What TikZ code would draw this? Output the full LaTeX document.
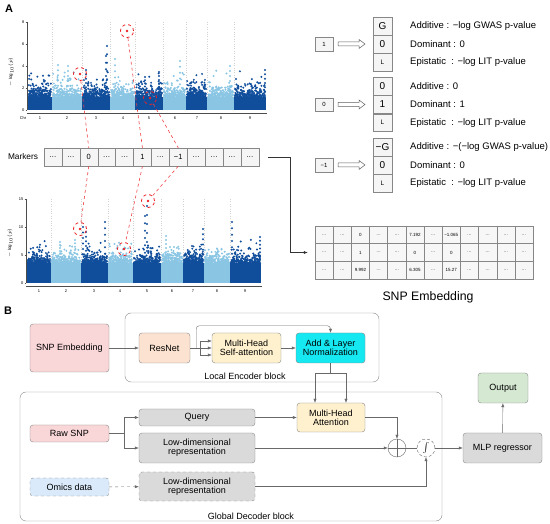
\documentclass[tikz,border=0pt]{standalone}
\usepackage{fontspec}
\setmainfont{Liberation Sans}
\usetikzlibrary{arrows.meta,calc}
\definecolor{dkblue}{RGB}{16,78,156}
\definecolor{ltblue}{RGB}{138,198,228}
\definecolor{snpred}{RGB}{236,32,36}
\definecolor{pinkfill}{RGB}{249,214,215}
\definecolor{peachfill}{RGB}{252,226,208}
\definecolor{yelfill}{RGB}{255,241,206}
\definecolor{cyanfill}{RGB}{22,232,242}
\definecolor{grayfill}{RGB}{218,218,218}
\definecolor{bluefill}{RGB}{218,234,250}
\definecolor{greenfill}{RGB}{212,232,210}
\definecolor{linegray}{RGB}{105,105,105}
\definecolor{boxgray}{RGB}{135,135,135}
\newcommand{\dd}{\ldots}
\newcommand{\fs}[1]{\fontsize{#1}{#1}\selectfont}
\begin{document}
\begin{tikzpicture}[x=1pt,y=-1pt]
\tikzset{
  cellbox/.style={draw=boxgray, fill=gray!8, minimum width=17.9pt, minimum height=18pt, inner sep=0pt, font=\fs{7.5}},
  stackcell/.style={draw=boxgray, fill=gray!8, minimum width=19pt, minimum height=17.7pt, inner sep=0pt, font=\fs{10}},
  smallbox/.style={draw=boxgray, fill=gray!8, minimum width=18pt, minimum height=13.5pt, inner sep=0pt, font=\fs{6}},
  tabcell/.style={draw=boxgray, fill=gray!6, minimum width=18.17pt, minimum height=17.67pt, inner sep=0pt, font=\fs{4.5}},
  hollow/.style={draw=gray!75!black, fill=white, line width=0.5pt},
  desc/.style={anchor=west, inner sep=0pt, font=\fs{9.5}},
  snpcirc/.style={circle, draw=snpred, dashed, thick, minimum size=13pt, inner sep=0pt},
  snplink/.style={draw=snpred!85, dashed, semithick},
  sep/.style={gray!35, dotted, line width=0.4pt},
  arrA/.style={draw=black!80, -{Latex[length=4pt,width=3pt]}},
  blk/.style={draw=boxgray, rounded corners=3pt, align=center, inner sep=1pt, font=\fs{9}},
  frame/.style={draw=boxgray, rounded corners=6pt, minimum width=#1, inner sep=0pt},
  arrB/.style={draw=linegray, -{Latex[length=4pt,width=3.2pt]}},
  lineB/.style={draw=linegray},
  axlab/.style={font=\fs{4}, inner sep=0.5pt}
}
\useasboundingbox (0,0) rectangle (550,524);

% ---------- A ----------
\node[font=\bfseries\fs{11}] (labA) at (9,9) {A};

% top manhattan plot
\foreach \xb in {52,82,110,135,163,186,207,234}
  \draw[sep] (\xb,22) -- (\xb,110);
\pgfmathsetseed{11}
\foreach \xa/\xb/\col in {28/52/dkblue,52/82/ltblue,82/110/dkblue,110/135/ltblue,135/163/dkblue,163/186/ltblue,186/207/dkblue,207/234/ltblue,234/266/dkblue}{
  \fill[\col] (\xa,110) rectangle (\xb,97);
  \foreach \n in {1,...,220}{
    \pgfmathsetmacro\px{\xa+0.9+rnd*(\xb-\xa-1.8)}
    \pgfmathsetmacro\py{98-11*(-ln(0.003+0.997*rnd)/2.302585)}
    \fill[\col] (\px,\py) circle (1.1);
  }
}
\foreach \sx/\sy/\col in {107/46/dkblue,106/56/dkblue,115/59/ltblue,180/61/ltblue,68/66/ltblue,58/65/ltblue,265/70/dkblue,159/72/dkblue,86/70/dkblue,145/77/dkblue,230/66/ltblue}
  \foreach \t in {0,1,...,6}
    \fill[\col] (\sx,{96+(\sy-96)*\t/6}) circle (1.1);
\draw[gray!60!black, line width=0.4pt] (27,22) -- (27,110);
\draw[gray!60!black, line width=0.4pt] (27,113) -- (267,113);
\foreach \v/\yy in {0/110,2/88,4/66,6/44,8/22}{
  \draw[gray!60!black, line width=0.4pt] (25.5,\yy) -- (27,\yy);
  \node[axlab, anchor=east] at (25,\yy) {\v};
}
\foreach \c/\xx in {1/40,2/67,3/96,4/123,5/149,6/175,7/197,8/221,9/250}
  \node[axlab] at (\xx,118) {\c};
\node[axlab] at (23,118) {Chr};
\node[rotate=90, font=\fs{4.5}] at (11,72) {$-\log_{10}(p)$};

% bottom manhattan plot
\foreach \xb in {51,81,108,133,161,183,204,230}
  \draw[sep] (\xb,199) -- (\xb,283);
\pgfmathsetseed{23}
\foreach \xa/\xb/\col in {27/51/dkblue,51/81/ltblue,81/108/dkblue,108/133/ltblue,133/161/dkblue,161/183/ltblue,183/204/dkblue,204/230/ltblue,230/261/dkblue}{
  \fill[\col] (\xa,283) rectangle (\xb,263);
  \foreach \n in {1,...,220}{
    \pgfmathsetmacro\px{\xa+0.9+rnd*(\xb-\xa-1.8)}
    \pgfmathsetmacro\py{264-10*(-ln(0.003+0.997*rnd)/2.302585)}
    \fill[\col] (\px,\py) circle (1.1);
  }
}
\foreach \sx/\sy/\col in {83/227/dkblue,86/232/dkblue,105/222/dkblue,147/206/dkblue,145/216/dkblue,203/229/dkblue,232/222/dkblue,260/237/dkblue,75/240/ltblue,166/236/ltblue,60/242/ltblue}
  \foreach \t in {0,1,...,6}
    \fill[\col] (\sx,{260+(\sy-260)*\t/6}) circle (1.1);
\draw[gray!60!black, line width=0.4pt] (26,199) -- (26,283);
\draw[gray!60!black, line width=0.4pt] (26,286) -- (262,286);
\foreach \v/\yy in {0/283,5/255,10/227,15/199}{
  \draw[gray!60!black, line width=0.4pt] (24.5,\yy) -- (26,\yy);
  \node[axlab, anchor=east] at (24,\yy) {\v};
}
\foreach \c/\xx in {1/39,2/66,3/94,4/120,5/147,6/172,7/193,8/217,9/245}
  \node[axlab] at (\xx,291) {\c};
\node[rotate=90, font=\fs{4.5}] at (10,243) {$-\log_{10}(p)$};

% highlighted SNPs
\foreach \nm/\cx/\cy in {c1/80/74,c2/127/31,c3/150/98,c4/80/229,c5/124/249,c6/148/201}{
  \fill[snpred] (\cx,\cy) circle (1.3);
  \node[snpcirc] (\nm) at (\cx,\cy) {};
}

% markers
\node[font=\fs{8.3}] (markers) at (23,157) {Markers};
\foreach \t [count=\i] in {\dd,\dd,0,\dd,\dd,1,\dd,−1,\dd,\dd,\dd,\dd}
  \node[cellbox] (mk\i) at ({44+17.9*(\i-0.5)},157) {\t};
\draw[snplink] (c1) -- (mk3.north);
\draw[snplink] (c2) -- (mk6.north);
\draw[snplink] (c3) -- (mk8.north);
\draw[snplink] (mk3.south) -- (c4);
\draw[snplink] (mk6.south) -- (c5);
\draw[snplink] (mk8.south) -- (c6);

% encoding of the genotypes
\foreach \gy/\v/\a/\b [count=\g] in {44/1/G/0,104.5/0/0/1,165/−1/−G/0}{
  \node[smallbox] (in\g) at (324,\gy) {\v};
  \node[stackcell] (s\g b) at (382.5,\gy) {\b};
  \node[stackcell, anchor=south] (s\g a) at (s\g b.north) {\a};
  \node[stackcell, anchor=north, font=\fs{6.5}] (s\g c) at (s\g b.south) {L};
  \draw[hollow] (338,\gy-2) -- (359,\gy-2) -- (359,\gy-4.5) -- (365,\gy) -- (359,\gy+4.5) -- (359,\gy+2) -- (338,\gy+2) -- cycle;
}
\node[desc] at ($(s1a.center)+(27.5,0)$) {Additive : −log GWAS p-value};
\node[desc] at ($(s1b.center)+(27.5,0)$) {Dominant : 0};
\node[desc] at ($(s1c.center)+(27.5,0)$) {Epistatic~~: −log LIT p-value};
\node[desc] at ($(s2a.center)+(27.5,0)$) {Additive : 0};
\node[desc] at ($(s2b.center)+(27.5,0)$) {Dominant : 1};
\node[desc] at ($(s2c.center)+(27.5,0)$) {Epistatic~~: −log LIT p-value};
\node[desc] at ($(s3a.center)+(27.5,0)$) {Additive : −(−log GWAS p-value)};
\node[desc] at ($(s3b.center)+(27.5,0)$) {Dominant : 0};
\node[desc] at ($(s3c.center)+(27.5,0)$) {Epistatic~~: −log LIT p-value};

% SNP embedding table
\foreach \r/\row in {1/{\dd,\dd,0,\dd,\dd,7.192,\dd,−1.065,\dd,\dd,\dd,\dd},2/{\dd,\dd,1,\dd,\dd,0,\dd,0,\dd,\dd,\dd,\dd},3/{\dd,\dd,9.992,\dd,\dd,6.305,\dd,15.27,\dd,\dd,\dd,\dd}}
  \foreach \v [count=\c] in \row
    \node[tabcell] (t-\r-\c) at ({315+18.17*(\c-0.5)},{226+17.67*(\r-0.5)}) {\v};
\node[font=\fs{12.3}] (embA) at (428,297) {SNP Embedding};
\draw[arrA] ([xshift=9pt]mk12.east) -- (290,157) |- ([xshift=-7pt]t-2-1.west);

% ---------- B ----------
\node[font=\bfseries\fs{11}] (labB) at (8,311) {B};
\node[frame=254pt, minimum height=69pt] (encoder) at (252,347.5) {};
\node[font=\fs{9}] (enclab) at (245,376) {Local Encoder block};
\node[frame=422pt, minimum height=129pt] (decoder) at (231,456.5) {};
\node[font=\fs{9}] (declab) at (251,516) {Global Decoder block};

\node[blk, fill=pinkfill, minimum width=79pt, minimum height=48pt] (snpemb) at (69.5,348) {SNP Embedding};
\node[blk, fill=peachfill, minimum width=51pt, minimum height=30pt] (resnet) at (164.5,348) {ResNet};
\node[blk, fill=yelfill, minimum width=69pt, minimum height=30pt] (mhsa) at (246.5,348) {Multi-Head\\Self-attention};
\node[blk, fill=cyanfill, minimum width=69pt, minimum height=30pt] (addnorm) at (330.5,348) {Add \& Layer\\Normalization};
\node[blk, fill=pinkfill, minimum width=79pt, minimum height=17pt] (raw) at (69.5,433.5) {Raw SNP};
\node[blk, fill=bluefill, dashed, minimum width=79pt, minimum height=18pt] (omics) at (69.5,487) {Omics data};
\node[blk, fill=grayfill, minimum width=116pt, minimum height=17pt] (query) at (197,417.5) {Query};
\node[blk, fill=grayfill, minimum width=116pt, minimum height=30pt] (low1) at (197,448) {Low-dimensional\\representation};
\node[blk, fill=grayfill, dashed, minimum width=116pt, minimum height=29pt] (low2) at (197,486.5) {Low-dimensional\\representation};
\node[blk, fill=yelfill, minimum width=68pt, minimum height=29pt] (mha) at (331,417.5) {Multi-Head\\Attention};
\node[circle, draw=linegray, minimum size=18pt, inner sep=0pt] (oplus) at (397,448) {};
\draw[linegray] (oplus.north) -- (oplus.south) (oplus.west) -- (oplus.east);
\node[circle, draw=linegray, densely dashed, minimum size=18pt, inner sep=0pt, font=\fs{12}] (integ) at (426,448) {$\int$};
\node[blk, fill=grayfill, minimum width=79pt, minimum height=30pt] (mlp) at (502.5,448) {MLP regressor};
\node[blk, fill=greenfill, minimum width=50pt, minimum height=30pt] (output) at (503,388) {Output};

\draw[arrB] (snpemb) -- (resnet);
\draw[lineB] (resnet.east) -- (200,348) coordinate (rsplit);
\foreach \dy in {-7,0,7}
  \draw[arrB] (rsplit) |- ($(mhsa.west)+(0,\dy)$);
\draw[arrB, rounded corners=3pt] ($(resnet.east)+(6,0)$) |- ($(addnorm.north)+(0,-7)$) -- (addnorm.north);
\draw[arrB] (mhsa) -- (addnorm);
\draw[lineB] (addnorm.south) -- ++(0,10) coordinate (asplit);
\draw[arrB] (asplit) -| ([xshift=-16pt]mha.north);
\draw[arrB] (asplit) -| ([xshift=15pt]mha.north);
\draw[lineB] (raw) -- (124,433.5) coordinate (rawsplit);
\draw[arrB] (rawsplit) |- (query);
\draw[arrB] (rawsplit) |- (low1);
\draw[arrB, dashed] (omics) -- (low2);
\draw[arrB] (query) -- (mha);
\draw[arrB] (low1) -- (oplus);
\draw[arrB] (mha.east) -| (oplus.north);
\draw[lineB] (oplus) -- (integ);
\draw[arrB] (low2.east) -| (integ.south);
\draw[arrB] (integ) -- (mlp);
\draw[arrB] (mlp) -- (output);
\end{tikzpicture}
\end{document}
